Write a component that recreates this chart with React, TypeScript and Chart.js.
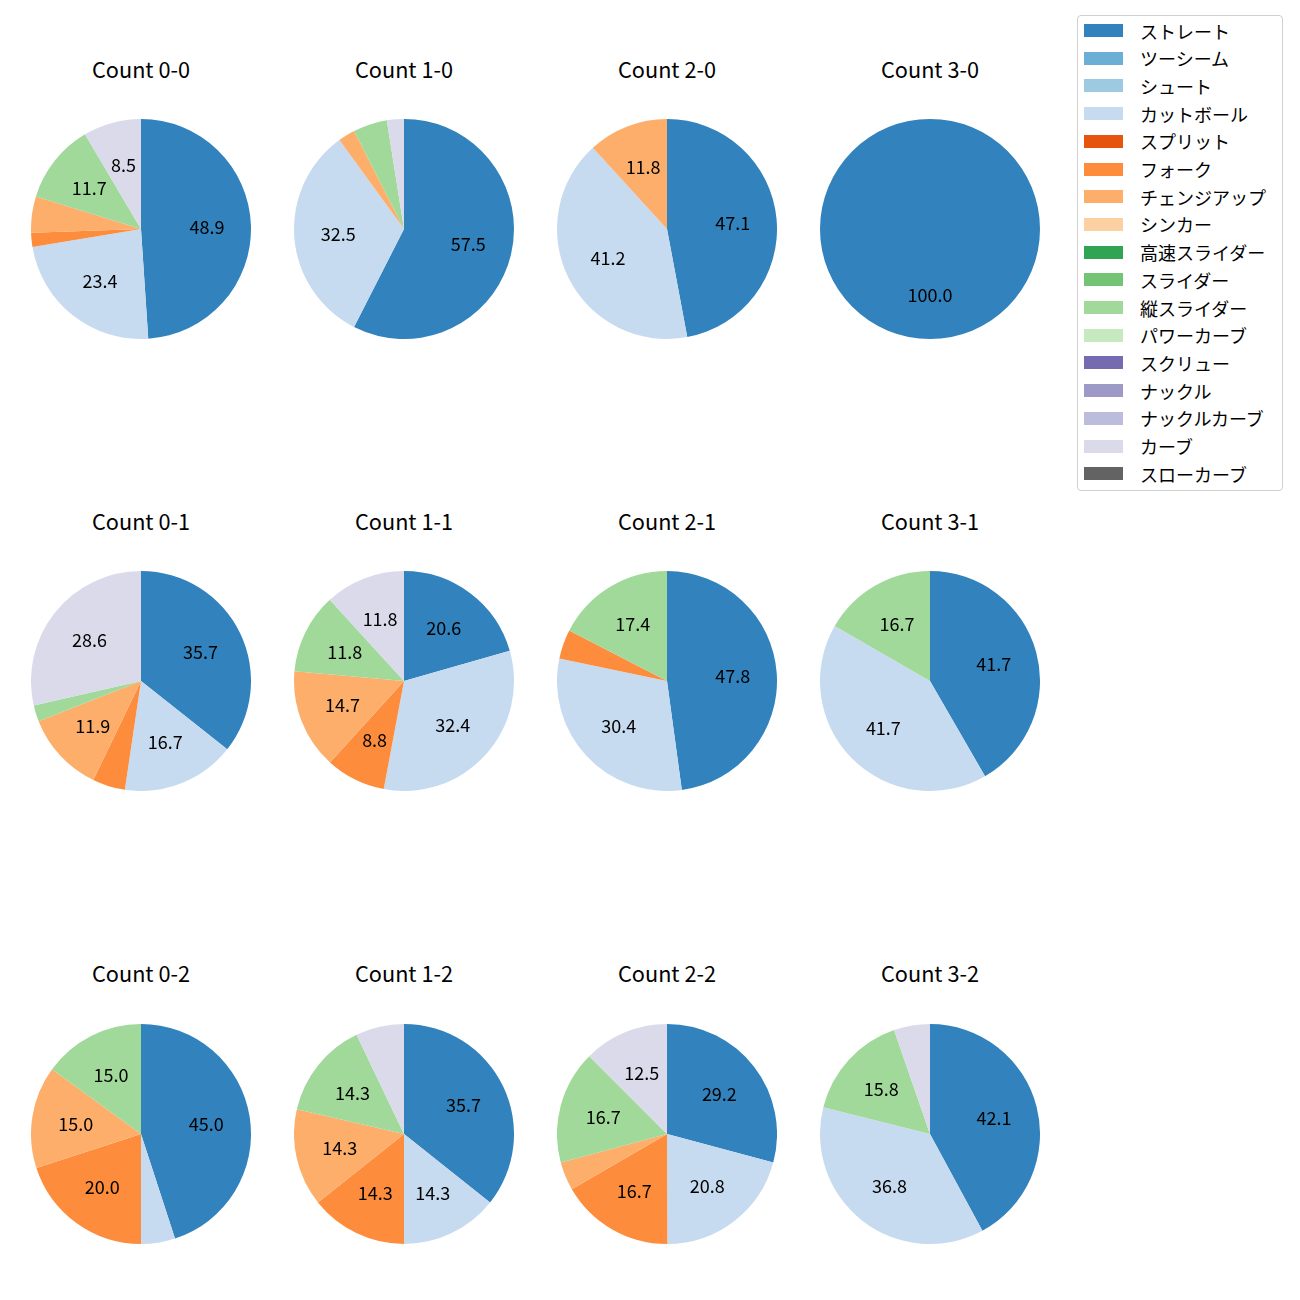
import React, { useEffect, useRef } from "react";
import { Chart, registerables } from "chart.js";

Chart.register(...registerables);

const PITCHES = [
  "ストレート", "ツーシーム", "シュート", "カットボール", "スプリット", "フォーク",
  "チェンジアップ", "シンカー", "高速スライダー", "スライダー", "縦スライダー",
  "パワーカーブ", "スクリュー", "ナックル", "ナックルカーブ", "カーブ", "スローカーブ",
];

const COLORS = [
  "#3182bd", "#6baed6", "#9ecae1", "#c6dbef", "#e6550d", "#fd8d3c",
  "#fdae6b", "#fdd0a2", "#31a354", "#74c476", "#a1d99b", "#c7e9c0",
  "#756bb1", "#9e9ac8", "#bcbddc", "#dadaeb", "#636363",
];

const TITLES = [
  "Count 0-0", "Count 1-0", "Count 2-0", "Count 3-0",
  "Count 0-1", "Count 1-1", "Count 2-1", "Count 3-1",
  "Count 0-2", "Count 1-2", "Count 2-2", "Count 3-2",
];

// percentages per pitch type (order = PITCHES)
const count00 = [48.9, 0, 0, 23.4, 0, 2.1, 5.3, 0, 0, 0, 11.7, 0, 0, 0, 0, 8.5, 0];
const count10 = [57.5, 0, 0, 32.5, 0, 0, 2.5, 0, 0, 0, 5.0, 0, 0, 0, 0, 2.5, 0];
const count20 = [47.1, 0, 0, 41.2, 0, 0, 11.8, 0, 0, 0, 0, 0, 0, 0, 0, 0, 0];
const count30 = [100.0, 0, 0, 0, 0, 0, 0, 0, 0, 0, 0, 0, 0, 0, 0, 0, 0];
const count01 = [35.7, 0, 0, 16.7, 0, 4.8, 11.9, 0, 0, 0, 2.4, 0, 0, 0, 0, 28.6, 0];
const count11 = [20.6, 0, 0, 32.4, 0, 8.8, 14.7, 0, 0, 0, 11.8, 0, 0, 0, 0, 11.8, 0];
const count21 = [47.8, 0, 0, 30.4, 0, 4.3, 0, 0, 0, 0, 17.4, 0, 0, 0, 0, 0, 0];
const count31 = [41.7, 0, 0, 41.7, 0, 0, 0, 0, 0, 0, 16.7, 0, 0, 0, 0, 0, 0];
const count02 = [45.0, 0, 0, 5.0, 0, 20.0, 15.0, 0, 0, 0, 15.0, 0, 0, 0, 0, 0, 0];
const count12 = [35.7, 0, 0, 14.3, 0, 14.3, 14.3, 0, 0, 0, 14.3, 0, 0, 0, 0, 7.1, 0];
const count22 = [29.2, 0, 0, 20.8, 0, 16.7, 4.2, 0, 0, 0, 16.7, 0, 0, 0, 0, 12.5, 0];
const count32 = [42.1, 0, 0, 36.8, 0, 0, 0, 0, 0, 0, 15.8, 0, 0, 0, 0, 5.3, 0];

const SERIES = [
  count00, count10, count20, count30,
  count01, count11, count21, count31,
  count02, count12, count22, count32,
];

const LABEL_MIN = 8;
const FONT = "'Noto Sans CJK JP', 'Noto Sans', sans-serif";

const COL_X = [141, 404, 667, 930];
const ROW_Y = [229, 681, 1134];
const TITLE_Y = [69, 521, 973];
const R = 110;

const pctLabels = {
  id: "pctLabels",
  afterDatasetsDraw(chart: any) {
    const ctx = chart.ctx;
    const meta = chart.getDatasetMeta(0);
    const values = chart.data.datasets[0].data as number[];
    ctx.save();
    ctx.font = `18px ${FONT}`;
    ctx.fillStyle = "#000";
    ctx.textAlign = "center";
    ctx.textBaseline = "middle";
    meta.data.forEach((arc: any, i: number) => {
      const v = values[i];
      if (!v || v < LABEL_MIN) return;
      const p = arc.getProps(["x", "y", "startAngle", "endAngle", "outerRadius"], true);
      const mid = (p.startAngle + p.endAngle) / 2;
      const r = p.outerRadius * 0.6;
      ctx.fillText(v.toFixed(1), p.x + Math.cos(mid) * r, p.y + Math.sin(mid) * r);
    });
    ctx.restore();
  },
};

function Pie({ values, title, cx, cy, ty }: { values: number[]; title: string; cx: number; cy: number; ty: number }) {
  const ref = useRef<HTMLCanvasElement | null>(null);
  useEffect(() => {
    if (!ref.current) return;
    const chart = new Chart(ref.current, {
      type: "pie",
      data: {
        labels: PITCHES,
        datasets: [{ data: values, backgroundColor: COLORS, borderWidth: 0 }],
      },
      options: {
        responsive: false,
        animation: false,
        layout: { padding: 0 },
        plugins: { legend: { display: false }, tooltip: { enabled: false } },
      },
      plugins: [pctLabels],
    });
    return () => chart.destroy();
  }, [values]);
  return (
    <>
      <div
        style={{
          position: "absolute", left: cx - 100, top: ty - 15.5, width: 200, height: 30,
          textAlign: "center", lineHeight: "30px", fontFamily: FONT, fontSize: "21.7px", color: "#000",
        }}
      >
        {title}
      </div>
      <canvas
        ref={ref}
        width={2 * R}
        height={2 * R}
        style={{ position: "absolute", left: cx - R, top: cy - R, width: 2 * R, height: 2 * R }}
      />
    </>
  );
}

export default function App() {
  return (
    <div style={{ position: "absolute", left: 0, top: 0, width: 1300, height: 1300, background: "#fff" }}>
      {SERIES.map((vals, i) => (
        <Pie
          key={i}
          values={vals}
          title={TITLES[i]}
          cx={COL_X[i % 4]}
          cy={ROW_Y[Math.floor(i / 4)]}
          ty={TITLE_Y[Math.floor(i / 4)]}
        />
      ))}
      <div
        style={{
          position: "absolute", left: 1077, top: 15, width: 204, height: 474,
          border: "1px solid #d0d0d0", borderRadius: 4, background: "rgba(255,255,255,0.8)",
        }}
      >
        {PITCHES.map((p, i) => (
          <div key={p} style={{ position: "absolute", left: 0, top: 14.5 + i * 27.7 - 14, height: 28, width: 204 }}>
            <div style={{ position: "absolute", left: 6, top: 7.5, width: 39, height: 13, background: COLORS[i] }} />
            <div
              style={{
                position: "absolute", left: 62, top: 0, lineHeight: "28px", whiteSpace: "nowrap",
                fontFamily: FONT, fontSize: "18px", color: "#000",
              }}
            >
              {p}
            </div>
          </div>
        ))}
      </div>
    </div>
  );
}
